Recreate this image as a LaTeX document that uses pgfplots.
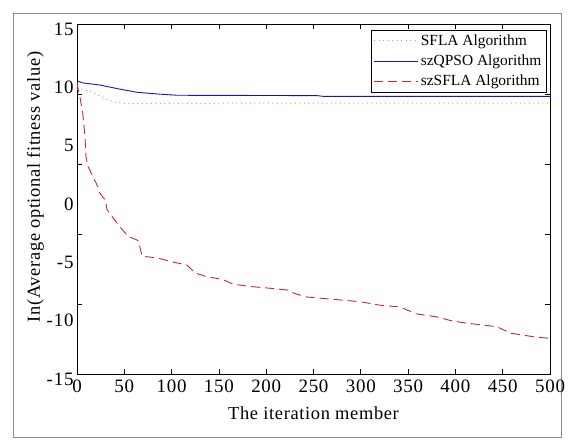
\documentclass[border=0pt]{standalone}
\usepackage{fontspec}
\setmainfont{Liberation Serif}
\usepackage{pgfplots}
\pgfplotsset{compat=1.18}

\definecolor{sflagreen}{RGB}{110,205,110}
\definecolor{qpsoblue}{RGB}{20,20,190}
\definecolor{szred}{RGB}{205,35,60}

\pgfplotstableread{
x    y
0    9.40
14   9.26
28   8.63
38   8.34
49   8.20
100  8.20
250  8.22
500  8.22
}\sfla

\pgfplotstableread{
x    y
0    10.14
6    9.95
24   9.77
45   9.42
63   9.15
85   9.00
106  8.89
254  8.86
260  8.80
500  8.80
}\szqpso

\pgfplotstableread{
x    y
0    9.90
1    9.50
3    8.80
6    7.40
8.5  5.30
9.5  3.60
11.6 2.80
17   1.90
22   1.05
24   0.50
30   -0.10
31.7 -0.90
37   -1.50
45.5 -2.40
54   -3.20
63   -3.50
65   -3.60
68.7 -4.90
84.6 -5.05
101  -5.40
116  -5.65
125  -6.35
137  -6.65
154  -6.90
165  -7.30
183  -7.50
204  -7.65
222  -7.80
230  -8.10
243  -8.40
271  -8.60
299  -8.80
320  -9.10
341  -9.25
359  -9.85
380  -10.10
394  -10.40
408  -10.60
444  -10.95
458  -11.50
482  -11.80
500  -11.95
}\szsfla

\begin{document}
\begin{tikzpicture}[x=1bp,y=1bp]
\path (0,0) rectangle (572,440);
\draw[black!45, line width=0.8bp] (13,3) rectangle (561,427);
\begin{axis}[
    at={(77bp,66bp)}, anchor=south west,
    scale only axis,
    width=473bp, height=350bp,
    xmin=0, xmax=500, ymin=-15, ymax=15,
    xtick={0,50,...,500},
    ytick={-15,-9,-3,3,9,15},
    yticklabels={},
    extra y ticks={-15,-10,-5,0,5,10,15},
    extra y tick labels={-15,-10,-5,0,5,10,15},
    extra y tick style={major tick length=0pt,
        yticklabel style={yshift=-5bp}},
    tick align=inside,
    major tick length=5bp,
    axis line style={line width=0.8bp},
    every tick/.style={black, line width=0.7bp},
    tick label style={font=\fontsize{19}{21}\selectfont\addfontfeatures{LetterSpace=4}},
    xticklabel style={yshift=-2bp},
    /pgf/number format/assume math mode=true,
    xlabel={The iteration member},
    ylabel={In(Average optional fitness value)},
    label style={font=\fontsize{18.5}{21}\selectfont\addfontfeatures{LetterSpace=3.5}},
    xlabel style={yshift=-8bp},
    ylabel style={yshift=-4bp, xshift=12bp},
    legend style={at={(axis description cs:0.992,0.983)}, anchor=north east,
        font=\fontsize{15.5}{18}\selectfont, draw=black, line width=0.7bp,
        row sep=4bp, inner sep=2.5bp},
    legend cell align=left,
    legend image code/.code={\draw[#1] (0bp,0bp) -- (44bp,0bp);},
]
\addplot[sflagreen, line width=1bp, dash pattern=on 1bp off 3.5bp] table[x=x,y=y] {\sfla};
\addlegendentry{SFLA Algorithm}
\addplot[qpsoblue, line width=0.9bp] table[x=x,y=y] {\szqpso};
\addlegendentry{szQPSO Algorithm}
\addplot[szred, line width=0.9bp, dash pattern=on 9bp off 5bp] table[x=x,y=y] {\szsfla};
\addlegendentry{szSFLA Algorithm}
\end{axis}
\end{tikzpicture}
\end{document}
